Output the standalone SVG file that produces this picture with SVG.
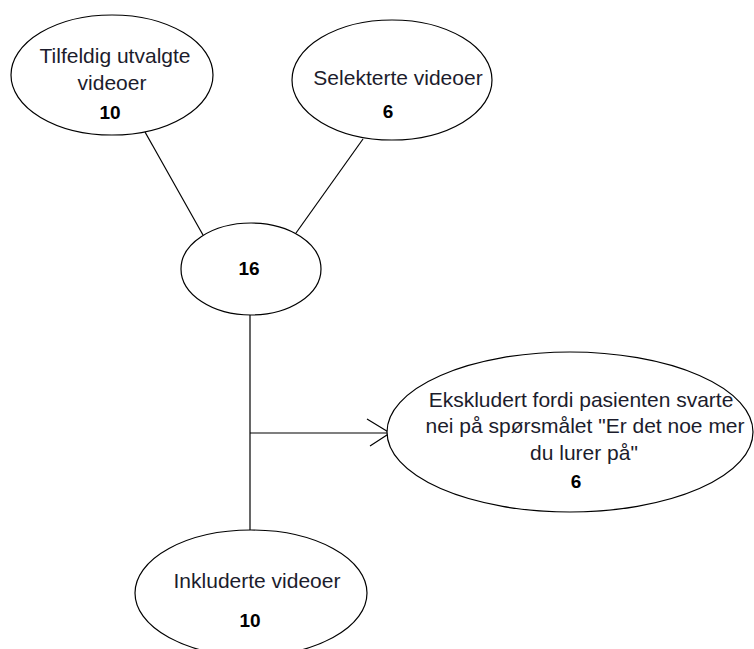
<svg xmlns="http://www.w3.org/2000/svg" width="754" height="649" viewBox="0 0 754 649">
<style>
  .node { fill: #ffffff; stroke: #000000; stroke-width: 1.2; }
  .edge { fill: none; stroke: #000000; stroke-width: 1.2; }
  .lbl { font-family: "Liberation Sans", Arial, sans-serif; font-size: 21px; fill: #1c1c2c; text-anchor: middle; }
  .num { font-family: "Liberation Sans", Arial, sans-serif; font-size: 19px; font-weight: bold; fill: #000000; text-anchor: middle; }
</style>
<rect width="754" height="649" fill="#ffffff"/>
<g id="connectors">
  <line class="edge" x1="145" y1="132" x2="203" y2="235"/>
  <line class="edge" x1="363" y1="139" x2="296" y2="233"/>
  <line class="edge" x1="250" y1="315" x2="250" y2="530"/>
  <line class="edge" x1="250" y1="433" x2="389" y2="433"/>
  <polyline class="edge" points="367,419 390,433 370,446"/>
</g>
<g id="node-tilfeldig">
  <ellipse class="node" cx="112" cy="75" rx="101" ry="60"/>
  <text class="lbl" x="115" y="63">Tilfeldig utvalgte</text>
  <text class="lbl" x="112" y="90">videoer</text>
  <text class="num" x="110" y="119">10</text>
</g>
<g id="node-selekterte">
  <ellipse class="node" cx="392" cy="80" rx="100" ry="60"/>
  <text class="lbl" x="398" y="85">Selekterte videoer</text>
  <text class="num" x="388" y="118">6</text>
</g>
<g id="node-total">
  <ellipse class="node" cx="251" cy="269" rx="70" ry="46"/>
  <text class="num" x="249" y="275">16</text>
</g>
<g id="node-ekskludert">
  <ellipse class="node" cx="570" cy="432" rx="183" ry="80"/>
  <text class="lbl" x="581" y="407">Ekskludert fordi pasienten svarte</text>
  <text class="lbl" x="585" y="433">nei på spørsmålet "Er det noe mer</text>
  <text class="lbl" x="584" y="460">du lurer på"</text>
  <text class="num" x="576" y="488">6</text>
</g>
<g id="node-inkluderte">
  <ellipse class="node" cx="251" cy="593" rx="116" ry="63"/>
  <text class="lbl" x="257" y="588">Inkluderte videoer</text>
  <text class="num" x="250" y="627">10</text>
</g>
</svg>
